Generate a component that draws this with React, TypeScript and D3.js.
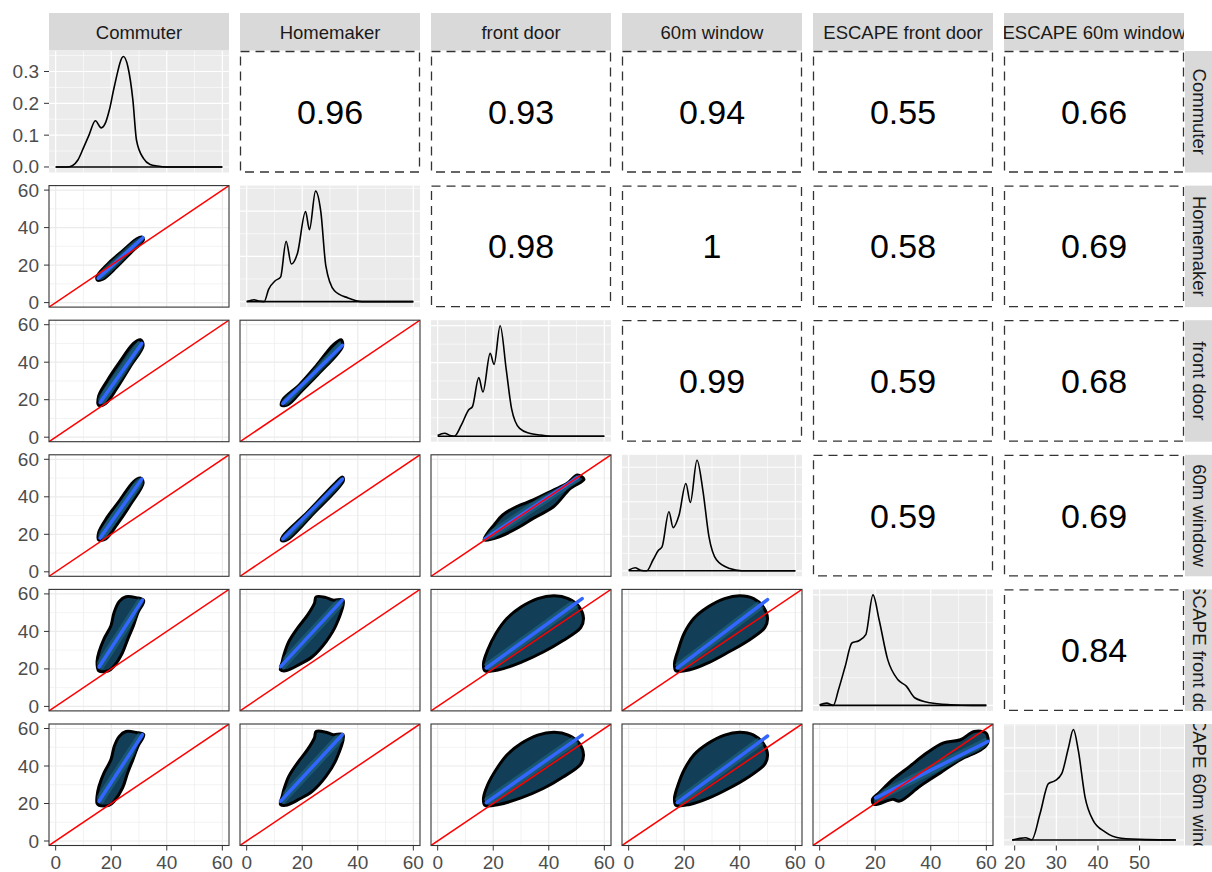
import React, { useEffect, useRef } from 'react';
import * as d3 from 'd3';

type Pt = [number, number];

const variables = ['Commuter', 'Homemaker', 'front door', '60m window', 'ESCAPE front door', 'ESCAPE 60m window'];

// correlation labels of the upper triangle, one array per row
const corrRow1 = ['0.96', '0.93', '0.94', '0.55', '0.66'];
const corrRow2 = ['0.98', '1', '0.58', '0.69'];
const corrRow3 = ['0.99', '0.59', '0.68'];
const corrRow4 = ['0.59', '0.69'];
const corrRow5 = ['0.84'];

const scatterTicks = [0, 20, 40, 60];
const densityTicks = [0, 0.1, 0.2, 0.3];
const lastColTicks = [20, 30, 40, 50];

// density curves: [value, density]
const densCommuter: Pt[] = [[0, 0], [4, 0], [6, 0.004], [8, 0.022], [10, 0.06], [12, 0.1], [14.3, 0.145], [16.4, 0.123], [18, 0.14], [19.3, 0.178], [21.1, 0.252], [24.4, 0.347], [26, 0.315], [27.8, 0.21], [29.1, 0.084], [31.6, 0.027], [34, 0.008], [36.6, 0.003], [40, 0], [60, 0]];
const densHomemaker: Pt[] = [[0, 0], [1.2, 0.002], [2.6, 0.004], [4.5, 0.001], [6.3, 0], [7.9, 0.027], [10.3, 0.046], [12.2, 0.054], [14.2, 0.133], [16.1, 0.083], [18.3, 0.107], [21.2, 0.199], [22.6, 0.159], [24.8, 0.244], [26.7, 0.198], [28.5, 0.079], [31.6, 0.024], [36.5, 0.008], [41.5, 0], [60, 0]];
const densFrontDoor: Pt[] = [[0, 0.002], [2.5, 0.008], [4.5, 0.002], [6, 0], [8.5, 0.03], [11.2, 0.072], [12.5, 0.08], [14.8, 0.159], [16.3, 0.12], [18.9, 0.225], [20.3, 0.195], [22.5, 0.3], [24.7, 0.18], [26.6, 0.075], [29.5, 0.021], [33, 0.008], [37, 0.003], [41, 0], [60, 0]];
const dens60m: Pt[] = [[0, 0.0016], [2.3, 0.0086], [4.3, 0.0016], [6.5, 0], [8.8, 0.032], [10.8, 0.06], [12, 0.069], [14.5, 0.171], [16, 0.125], [18.1, 0.16], [20.6, 0.253], [22.2, 0.198], [24.6, 0.32], [26.7, 0.234], [28.9, 0.099], [31.6, 0.032], [36.4, 0.0064], [40.7, 0], [60, 0]];
const densEscFront: Pt[] = [[0, 0.0005], [2.5, 0.002], [4.9, 0], [6.8, 0.0144], [9.2, 0.0354], [11.6, 0.0565], [14.1, 0.0585], [16.6, 0.064], [19.2, 0.1], [21.4, 0.0775], [24.5, 0.0414], [28.1, 0.0234], [31.2, 0.0174], [34.2, 0.0069], [39.7, 0.0024], [47.1, 0.0006], [55, 0], [60, 0]];
const densEsc60: Pt[] = [[19.4, 0], [21, 0.0015], [22.6, 0.0024], [24.1, 0.0003], [26.1, 0.0288], [28.1, 0.0612], [29.7, 0.0644], [31.3, 0.072], [32.9, 0.1], [34.1, 0.12], [35.3, 0.0967], [36.9, 0.0466], [38.8, 0.0216], [41.6, 0.009], [45.6, 0.0018], [51.9, 0.0004], [58.7, 0]];

// outlines of the point clouds in the lower panels: [x variable, y variable]
const cloudHomeComm: Pt[] = [[15, 12], [17, 12.5], [22, 19], [27, 26.5], [31.6, 33.5], [31, 35], [29, 33.8], [24, 27.5], [19, 21], [15.5, 15.5], [14.8, 13.5]];
const fitHomeComm: Pt[] = [[15.3, 13], [31.4, 34.6]];
const cloudFrontComm: Pt[] = [[15.5, 17], [18, 18], [22, 26], [27, 38], [31.5, 49], [30.5, 52], [28, 50], [23, 40], [18.5, 30], [15.5, 22]];
const fitFrontComm: Pt[] = [[16, 18.5], [31, 50]];
const cloud60Comm: Pt[] = [[15.5, 17], [18, 17.5], [22, 25], [27, 36], [31.5, 47.5], [30.5, 50], [28, 48], [23, 38], [18.5, 29], [15.5, 21]];
const fit60Comm: Pt[] = [[16, 18], [31, 49.5]];
const cloudFrontHome: Pt[] = [[12.5, 17], [15, 17.5], [20, 25], [26, 34], [34.5, 48.5], [34, 52], [31, 49], [25, 38], [19, 28], [13, 20]];
const fitFrontHome: Pt[] = [[13, 18], [34.5, 49]];
const cloud60Home: Pt[] = [[12.5, 16.8], [14.5, 17], [24, 31], [34.8, 48.5], [34.5, 50.5], [32, 47.5], [22, 32], [13, 19]];
const fit60Home: Pt[] = [[13, 17.5], [34.5, 49.5]];
const cloud60Front: Pt[] = [[16.7, 17], [22.2, 18.7], [29.5, 24], [34.4, 28.5], [41.7, 34.7], [47.8, 44.5], [52.7, 49.3], [50.3, 51.6], [46.6, 47.2], [41.7, 43.6], [34.4, 38.3], [28.3, 34.7], [23.4, 30.3], [20.3, 25], [17.9, 20.5]];
const fit60Front: Pt[] = [[17, 17.5], [50.5, 50.5]];
const cloudEfComm: Pt[] = [[15.5, 19], [19, 19], [21, 21.5], [24, 28.5], [26, 36], [28, 43], [29.6, 50], [31.7, 56.5], [29, 58], [25.3, 58.5], [22.9, 56], [21, 50], [19.9, 43], [17.4, 36], [15.6, 29], [14.9, 24]];
const fitEfComm: Pt[] = [[15.6, 21], [31.2, 56.7]];
const cloudEfHome: Pt[] = [[12.2, 19.5], [14, 19], [18.9, 22.3], [23.7, 26.6], [28.6, 34.6], [32.2, 43.4], [34.7, 56.7], [31.1, 56.7], [28.6, 58], [25, 58.4], [24.4, 55], [21.9, 48.7], [18.3, 41.7], [15.2, 34.6], [13.4, 27.5], [12.8, 23.9], [12.2, 21]];
const fitEfHome: Pt[] = [[12.2, 21.2], [34.4, 56.7]];
const cloudEfFront: Pt[] = [[17, 19], [22, 19.5], [30, 23.5], [38, 29], [45, 35], [51.5, 42], [52.5, 47], [51, 53], [47, 57.5], [42, 59], [36, 57.5], [30, 53], [25, 47], [21, 39], [18, 30], [16.5, 23]];
const fitEfFront: Pt[] = [[17.5, 20.5], [52, 57.5]];
const cloudEf60: Pt[] = [[17, 19], [22, 19.5], [29, 23.5], [36, 29], [43, 35], [49, 42], [50, 47], [48.5, 53], [45, 57.5], [40, 59], [34.5, 57.5], [28.5, 53], [23.5, 47], [20, 39], [17.8, 30], [16.5, 23]];
const fitEf60: Pt[] = [[17.5, 20.5], [50, 57]];
const cloudE6Comm: Pt[] = [[15.6, 19], [19.2, 19], [21.1, 21.3], [24.1, 28.4], [25.9, 36.3], [27.8, 43.4], [29.6, 50.5], [31.7, 56.7], [29, 57.9], [25.3, 58.4], [22.9, 55.8], [21.1, 50.5], [19.9, 43.4], [17.4, 36.3], [15.6, 29.2], [14.9, 23.9], [14.9, 20]];
const fitE6Comm: Pt[] = [[15.6, 21.2], [31.2, 56.7]];
const cloudE6Home: Pt[] = [[12.2, 19.5], [14, 19], [18.9, 22.3], [23.7, 26.6], [28.6, 34.6], [32.2, 43.4], [34.7, 56.7], [31.1, 56.7], [28.6, 58], [25, 58.4], [24.4, 55], [21.9, 48.7], [18.3, 41.7], [15.2, 34.6], [13.4, 27.5], [12.8, 23.9], [12.2, 21]];
const fitE6Home: Pt[] = [[12.2, 21.2], [34.4, 56.7]];
const cloudE6Front: Pt[] = [[17, 19], [22, 19.5], [30, 23], [38, 28], [45, 34], [51.5, 41], [52.5, 46], [51, 52], [47, 56.5], [42, 58], [36, 56.5], [30, 52], [25, 46], [21, 38], [18, 30], [16.5, 23]];
const fitE6Front: Pt[] = [[17.5, 20.5], [52, 56.5]];
const cloudE660: Pt[] = [[17, 19], [22, 19.5], [29, 23], [36, 28], [43, 34], [49, 41], [50, 46], [48.5, 52], [45, 56.5], [40, 58], [34.5, 56.5], [28.5, 52], [23.5, 46], [20, 38], [17.8, 30], [16.5, 23]];
const fitE660: Pt[] = [[17.5, 20.5], [50, 56]];
const cloudE6Ef: Pt[] = [[19.6, 19.5], [26.3, 22.2], [28.8, 21.3], [36.1, 29.2], [43.4, 36.3], [50.7, 43.4], [58.1, 48.7], [60.5, 52.3], [59.9, 57.6], [55.6, 58.4], [50.7, 54], [44.6, 52.3], [38.5, 46.9], [32.4, 39.8], [26.3, 32.8], [21.4, 25.7], [19, 22.2]];
const fitE6Ef: Pt[] = [[20.2, 23], [60.5, 53.1]];

const densitySeries = [densCommuter, densHomemaker, densFrontDoor, dens60m, densEscFront, densEsc60];
const corrRows = [corrRow1, corrRow2, corrRow3, corrRow4, corrRow5];
const lowerPanels = [
  { row: 1, col: 0, cloud: cloudHomeComm, fit: fitHomeComm },
  { row: 2, col: 0, cloud: cloudFrontComm, fit: fitFrontComm },
  { row: 3, col: 0, cloud: cloud60Comm, fit: fit60Comm },
  { row: 2, col: 1, cloud: cloudFrontHome, fit: fitFrontHome },
  { row: 3, col: 1, cloud: cloud60Home, fit: fit60Home },
  { row: 3, col: 2, cloud: cloud60Front, fit: fit60Front },
  { row: 4, col: 0, cloud: cloudEfComm, fit: fitEfComm },
  { row: 4, col: 1, cloud: cloudEfHome, fit: fitEfHome },
  { row: 4, col: 2, cloud: cloudEfFront, fit: fitEfFront },
  { row: 4, col: 3, cloud: cloudEf60, fit: fitEf60 },
  { row: 5, col: 0, cloud: cloudE6Comm, fit: fitE6Comm },
  { row: 5, col: 1, cloud: cloudE6Home, fit: fitE6Home },
  { row: 5, col: 2, cloud: cloudE6Front, fit: fitE6Front },
  { row: 5, col: 3, cloud: cloudE660, fit: fitE660 },
  { row: 5, col: 4, cloud: cloudE6Ef, fit: fitE6Ef },
];

const W = 1212;
const H = 872;
const LEFT0 = 49;
const COL_STEP = 191;
const PW = 180;
const TOP0 = 51;
const ROW_STEP = 134.6;
const PH = 121.5;
const FONT = 'Liberation Sans, Arial, Helvetica, sans-serif';
const SCAT_DOMAIN: Pt = [-2.4, 62.4];

const minorsOf = (majors: number[], domain: number[]) => {
  if (majors.length < 2) return [];
  const step = majors[1] - majors[0];
  const out: number[] = [];
  for (let v = majors[0] - step / 2; v <= domain[1]; v += step) {
    if (v >= domain[0]) out.push(v);
  }
  return out;
};

const App = () => {
  const ref = useRef<SVGSVGElement>(null);

  useEffect(() => {
    const svg = d3.select(ref.current);
    svg.selectAll('*').remove();
    const defs = svg.append('defs');

    const colX = (c: number) => LEFT0 + c * COL_STEP;
    const rowY = (r: number) => TOP0 + r * ROW_STEP;

    // strips
    variables.forEach((name, i) => {
      const x = colX(i);
      defs.append('clipPath').attr('id', `ts${i}`)
        .append('rect').attr('x', x).attr('y', 13).attr('width', PW).attr('height', 37.5);
      svg.append('rect').attr('x', x).attr('y', 13).attr('width', PW).attr('height', 37.5).attr('fill', '#D9D9D9');
      svg.append('text').attr('clip-path', `url(#ts${i})`)
        .attr('x', x + PW / 2).attr('y', 32).attr('text-anchor', 'middle').attr('dominant-baseline', 'central')
        .attr('font-family', FONT).attr('font-size', 18.5).attr('fill', '#1A1A1A').text(name);

      const y = rowY(i);
      defs.append('clipPath').attr('id', `rs${i}`)
        .append('rect').attr('x', 1185).attr('y', y).attr('width', 40).attr('height', PH);
      svg.append('rect').attr('x', 1185).attr('y', y).attr('width', 40).attr('height', PH).attr('fill', '#D9D9D9');
      svg.append('g').attr('clip-path', `url(#rs${i})`)
        .append('text').attr('transform', `translate(1199,${y + PH / 2}) rotate(90)`)
        .attr('text-anchor', 'middle').attr('dominant-baseline', 'central')
        .attr('font-family', FONT).attr('font-size', 18.5).attr('fill', '#1A1A1A').text(name);
    });

    const drawGrid = (g: any, x: any, y: any, xMaj: number[], yMaj: number[], color: string, L: number, T: number) => {
      const xMin = minorsOf(xMaj, x.domain());
      const yMin = minorsOf(yMaj, y.domain());
      xMin.forEach((v) => g.append('line').attr('x1', x(v)).attr('x2', x(v)).attr('y1', T).attr('y2', T + PH).attr('stroke', color).attr('stroke-width', 0.6));
      yMin.forEach((v) => g.append('line').attr('x1', L).attr('x2', L + PW).attr('y1', y(v)).attr('y2', y(v)).attr('stroke', color).attr('stroke-width', 0.6));
      xMaj.filter((v) => v >= x.domain()[0] && v <= x.domain()[1]).forEach((v) => g.append('line').attr('x1', x(v)).attr('x2', x(v)).attr('y1', T).attr('y2', T + PH).attr('stroke', color).attr('stroke-width', 1.2));
      yMaj.filter((v) => v >= y.domain()[0] && v <= y.domain()[1]).forEach((v) => g.append('line').attr('x1', L).attr('x2', L + PW).attr('y1', y(v)).attr('y2', y(v)).attr('stroke', color).attr('stroke-width', 1.2));
    };

    const leftAxis = (y: any, ticks: number[], fmt: (v: number) => string) => {
      ticks.forEach((v) => {
        svg.append('line').attr('x1', LEFT0 - 5).attr('x2', LEFT0).attr('y1', y(v)).attr('y2', y(v)).attr('stroke', '#333333').attr('stroke-width', 1);
        svg.append('text').attr('x', LEFT0 - 10).attr('y', y(v)).attr('text-anchor', 'end').attr('dominant-baseline', 'central')
          .attr('font-family', FONT).attr('font-size', 19).attr('fill', '#4D4D4D').text(fmt(v));
      });
    };
    const bottomAxis = (x: any, ticks: number[]) => {
      const yb = rowY(5) + PH;
      ticks.forEach((v) => {
        svg.append('line').attr('x1', x(v)).attr('x2', x(v)).attr('y1', yb).attr('y2', yb + 5).attr('stroke', '#333333').attr('stroke-width', 1);
        svg.append('text').attr('x', x(v)).attr('y', 869).attr('text-anchor', 'middle')
          .attr('font-family', FONT).attr('font-size', 19).attr('fill', '#4D4D4D').text(v);
      });
    };

    for (let r = 0; r < 6; r++) {
      for (let c = 0; c < 6; c++) {
        const L = colX(c);
        const T = rowY(r);
        const g = svg.append('g');
        defs.append('clipPath').attr('id', `p${r}${c}`)
          .append('rect').attr('x', L).attr('y', T).attr('width', PW).attr('height', PH);

        if (r < c) {
          g.append('rect').attr('x', L + 0.5).attr('y', T + 0.5).attr('width', PW - 1).attr('height', PH - 1)
            .attr('fill', '#ffffff').attr('stroke', '#333333').attr('stroke-width', 1.3).attr('stroke-dasharray', '9,6');
          g.append('text').attr('x', L + PW / 2).attr('y', T + PH / 2).attr('text-anchor', 'middle').attr('dominant-baseline', 'central')
            .attr('font-family', FONT).attr('font-size', 34).attr('fill', '#000000').text(corrRows[r][c - r - 1]);
        } else if (r === c) {
          const data = densitySeries[c];
          let xDom: number[] = SCAT_DOMAIN;
          if (c === 5) {
            const ext = d3.extent(data, (d) => d[0]) as number[];
            const pad = (ext[1] - ext[0]) * 0.05;
            xDom = [ext[0] - pad, ext[1] + pad];
          }
          const x = d3.scaleLinear().domain(xDom).range([L, L + PW]);
          const maxY = d3.max(data, (d) => d[1]) as number;
          const y = d3.scaleLinear().domain([-0.05 * maxY, 1.05 * maxY]).range([T + PH, T]);
          g.append('rect').attr('x', L).attr('y', T).attr('width', PW).attr('height', PH).attr('fill', '#EBEBEB');
          const xMaj = c === 5 ? lastColTicks : scatterTicks;
          const yMaj = c === 0 ? densityTicks : y.ticks(3);
          drawGrid(g, x, y, xMaj, yMaj, '#ffffff', L, T);
          const inner = g.append('g').attr('clip-path', `url(#p${r}${c})`);
          const line = d3.line<Pt>().x((d) => x(d[0])).y((d) => y(d[1])).curve(d3.curveMonotoneX);
          inner.append('path').attr('d', line(data)).attr('fill', 'none').attr('stroke', '#000000').attr('stroke-width', 1.6);
          inner.append('line').attr('x1', x(data[0][0])).attr('x2', x(data[data.length - 1][0]))
            .attr('y1', y(0)).attr('y2', y(0)).attr('stroke', '#000000').attr('stroke-width', 1.6);
          if (c === 0) leftAxis(y, densityTicks, d3.format('.1f'));
          if (r === 5) bottomAxis(x, lastColTicks);
        } else {
          const panel = lowerPanels.find((p) => p.row === r && p.col === c)!;
          const x = d3.scaleLinear().domain(SCAT_DOMAIN).range([L, L + PW]);
          const y = d3.scaleLinear().domain(SCAT_DOMAIN).range([T + PH, T]);
          g.append('rect').attr('x', L).attr('y', T).attr('width', PW).attr('height', PH).attr('fill', '#ffffff');
          drawGrid(g, x, y, scatterTicks, scatterTicks, '#EBEBEB', L, T);
          const inner = g.append('g').attr('clip-path', `url(#p${r}${c})`);
          const hull = d3.line<Pt>().x((d) => x(d[0])).y((d) => y(d[1])).curve(d3.curveCatmullRomClosed.alpha(0.5));
          const seg = d3.line<Pt>().x((d) => x(d[0])).y((d) => y(d[1]));
          inner.append('path').attr('d', hull(panel.cloud)).attr('fill', '#123F57').attr('stroke', '#000000')
            .attr('stroke-width', 3).attr('stroke-linejoin', 'round');
          // lighter core where the points are densest
          defs.append('clipPath').attr('id', `h${r}${c}`).append('path').attr('d', hull(panel.cloud));
          inner.append('path').attr('clip-path', `url(#h${r}${c})`).attr('d', seg(panel.fit)).attr('fill', 'none')
            .attr('stroke', '#1F6C88').attr('stroke-opacity', 0.55).attr('stroke-width', 9);
          inner.append('path').attr('d', seg(panel.fit)).attr('fill', 'none').attr('stroke', '#3366FF')
            .attr('stroke-width', 3.5).attr('stroke-linecap', 'round');
          inner.append('path').attr('d', seg([[-10, -10], [70, 70]])).attr('fill', 'none').attr('stroke', '#FF0000').attr('stroke-width', 1.5);
          g.append('rect').attr('x', L).attr('y', T).attr('width', PW).attr('height', PH)
            .attr('fill', 'none').attr('stroke', '#333333').attr('stroke-width', 1.1);
          if (c === 0) leftAxis(y, scatterTicks, (v) => String(v));
          if (r === 5) bottomAxis(x, scatterTicks);
        }
      }
    }
  }, []);

  return (
    <svg ref={ref} width={W} height={H}
      style={{ position: 'absolute', left: 0, top: 0, background: '#ffffff' }} />
  );
};

export default App;
